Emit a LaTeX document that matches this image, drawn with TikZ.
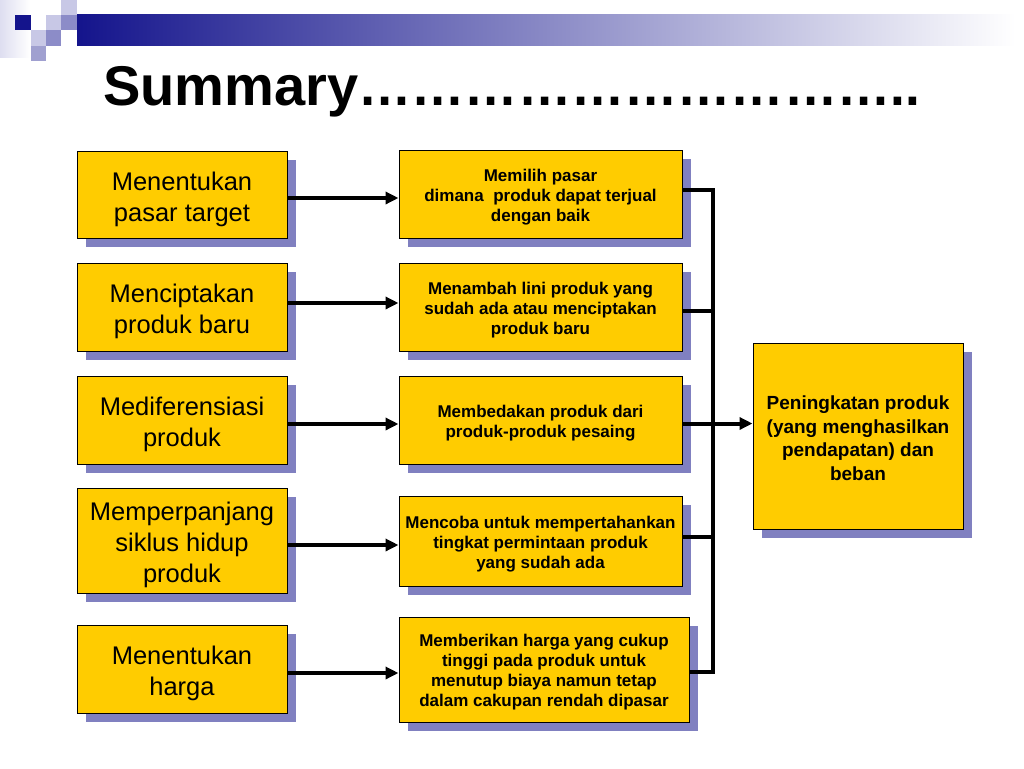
\documentclass[tikz,border=0pt]{standalone}
\usepackage{fontspec}
\usepackage{graphicx}
\setmainfont{Liberation Sans}
\usetikzlibrary{shadows,arrows.meta,calc}
\definecolor{boxy}{HTML}{FFCC00}
\definecolor{shadc}{HTML}{8080C0}
\definecolor{navy}{HTML}{14148C}
\definecolor{midnavy}{HTML}{6464B0}
\definecolor{lightsq}{HTML}{C8C8E6}
\definecolor{medsq}{HTML}{8C8CC8}
\definecolor{midsq}{HTML}{A0A0D0}
\tikzset{
  card/.style={draw=black, line width=1pt, fill=boxy, inner sep=2pt, align=center,
    drop shadow={shadow xshift=9pt, shadow yshift=-9pt, fill=shadc, opacity=1}},
  lcard/.style={card, minimum width=210pt,
    label={[align=center, font=\fontsize{25.5}{31}\selectfont, yshift=-4.5pt]center:{#1}}},
  mcard/.style={card,
    label={[align=center, font=\fontsize{17}{20}\selectfont\bfseries, yshift=-3pt]center:{#1}}},
  rcard/.style={card, minimum width=210pt, minimum height=186pt,
    label={[align=center, font=\fontsize{19}{23.5}\selectfont\bfseries, yshift=-2pt]center:{#1}}},
  arr/.style={line width=4pt, -{Triangle[length=13pt,width=12pt]}},
  busline/.style={line width=4pt, line join=miter}
}
\begin{document}
\begin{tikzpicture}[x=1pt,y=-1pt]
\useasboundingbox (0,0) rectangle (1024,768);
% header decoration
\shade[left color=lightsq!60, right color=white] (0,0) rectangle (30,58);
\shade[left color=navy, middle color=midnavy, right color=white] (77,15) rectangle (1015,46);
\fill[navy] (15,15) rectangle (31,30);
\fill[lightsq] (46,15) rectangle (61,30);
\fill[lightsq] (61,0) rectangle (77,15);
\fill[medsq] (61,15) rectangle (77,30);
\fill[lightsq] (31,30) rectangle (46,46);
\fill[medsq] (46,30) rectangle (61,46);
\fill[midsq] (31,46) rectangle (46,61);
% title
\node[anchor=base west, inner sep=0, font=\fontsize{56}{60}\selectfont\bfseries] (title) at (103,105) {Summary\scalebox{0.95}[1]{…………………………..}};
% left cards
\node[lcard={Menentukan\\pasar target}, minimum height=87pt] (l1) at (182,194.5) {};
\node[lcard={Menciptakan\\produk baru}, minimum height=88pt] (l2) at (182,307) {};
\node[lcard={Mediferensiasi\\produk}, minimum height=88pt] (l3) at (182,420) {};
\node[lcard={Memperpanjang\\siklus hidup\\produk}, minimum height=105pt] (l4) at (182,540.5) {};
\node[lcard={Menentukan\\harga}, minimum height=88pt] (l5) at (182,669) {};
% middle cards
\node[mcard={Memilih pasar\\dimana\ \ produk dapat terjual\\dengan baik}, minimum width=283pt, minimum height=88pt] (m1) at (540.5,194) {};
\node[mcard={Menambah lini produk yang\\sudah ada atau menciptakan\\produk baru}, minimum width=283pt, minimum height=88pt] (m2) at (540.5,307) {};
\node[mcard={Membedakan produk dari\\produk-produk pesaing}, minimum width=283pt, minimum height=88pt] (m3) at (540.5,420) {};
\node[mcard={Mencoba untuk mempertahankan\\tingkat permintaan produk\\yang sudah ada}, minimum width=283pt, minimum height=90pt] (m4) at (540.5,541) {};
\node[mcard={Memberikan harga yang cukup\\tinggi pada produk untuk\\menutup biaya namun tetap\\dalam cakupan rendah dipasar}, minimum width=290pt, minimum height=105pt] (m5) at (544,669.5) {};
% right card
\node[rcard={Peningkatan produk\\(yang menghasilkan\\pendapatan) dan\\beban}] (r) at (858,436) {};
% arrows left -> middle
\draw[arr] ([yshift=-3.5pt]l1.east) -- ([yshift=-3.5pt]l1.east -| m1.west);
\draw[arr] ([yshift=4pt]l2.east) -- ([yshift=4pt]l2.east -| m2.west);
\draw[arr] ([yshift=-4pt]l3.east) -- ([yshift=-4pt]l3.east -| m3.west);
\draw[arr] ([yshift=-4.5pt]l4.east) -- ([yshift=-4.5pt]l4.east -| m4.west);
\draw[arr] ([yshift=-4pt]l5.east) -- ([yshift=-4pt]l5.east -| m5.west);
% bus
\coordinate (bt) at (713,190);
\coordinate (bb) at (713,672);
\draw[busline] (m1.east |- bt) -- (bt) -- (bb) -- (m5.east |- bb);
\draw[busline] ([yshift=-4pt]m2.east) -- ([yshift=-4pt]m2.east -| bt);
\draw[busline] ([yshift=4pt]m4.east) -- ([yshift=4pt]m4.east -| bt);
\draw[arr] ([yshift=-3.5pt]m3.east) -- ([yshift=-3.5pt]m3.east -| r.west);
\end{tikzpicture}
\end{document}
